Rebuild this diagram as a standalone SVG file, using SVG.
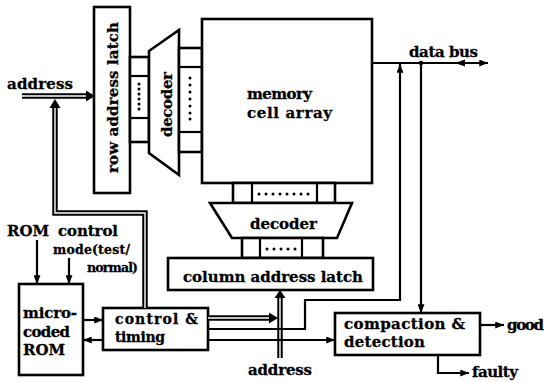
<svg xmlns="http://www.w3.org/2000/svg" width="544" height="382" viewBox="0 0 544 382">
  <style>
    .box { fill: #fff; stroke: #000; stroke-width: 2.6; }
    .ln { fill: none; stroke: #000; stroke-width: 2.2; }
    .dbo { fill: none; stroke: #000; stroke-width: 5.5; }
    .dbi { fill: none; stroke: #fff; stroke-width: 1.4; }
    .head { fill: #000; }
    .dot { fill: #000; }
    text { font-family: "DejaVu Serif", "Liberation Serif", serif; font-weight: bold; font-size: 15px; fill: #000; stroke: #000; stroke-width: 0.3; }
    .sm { font-size: 12.5px; }
    .ct { font-size: 14px; }
  </style>
  <defs>
    <marker id="arr" viewBox="0 0 10 8" refX="10" refY="4" markerWidth="10" markerHeight="7" orient="auto" markerUnits="userSpaceOnUse">
      <path d="M0,0 L10,4 L0,8 z" fill="#000"/>
    </marker>
  </defs>

  <!-- row address latch -->
  <g id="row-latch">
    <rect class="box" x="94" y="7" width="36" height="186"/>
    <text transform="translate(118,173) rotate(-90)" textLength="151" lengthAdjust="spacing">row address latch</text>
  </g>

  <!-- lines from latch to row decoder -->
  <g id="row-lines">
    <rect class="box" x="130" y="57" width="19" height="85"/>
    <line class="ln" x1="130" y1="76" x2="149" y2="76"/>
    <line class="ln" x1="130" y1="118" x2="149" y2="118"/>
    <g class="dot">
      <circle cx="139" cy="84" r="1.5"/><circle cx="139" cy="89" r="1.5"/><circle cx="139" cy="94" r="1.5"/>
      <circle cx="139" cy="99" r="1.5"/><circle cx="139" cy="104" r="1.5"/><circle cx="139" cy="109" r="1.5"/>
    </g>
  </g>

  <!-- row decoder -->
  <g id="row-decoder">
    <polygon class="box" points="149,51 179,30 179,175 149,153"/>
    <text transform="translate(172,137) rotate(-90)" textLength="65" lengthAdjust="spacing">decoder</text>
  </g>

  <!-- word lines into the array -->
  <g id="word-lines">
    <rect class="box" x="179" y="48" width="23" height="104"/>
    <line class="ln" x1="179" y1="67" x2="202" y2="67"/>
    <line class="ln" x1="179" y1="132" x2="202" y2="132"/>
    <g class="dot">
      <circle cx="190" cy="78" r="1.5"/><circle cx="190" cy="85" r="1.5"/><circle cx="190" cy="92" r="1.5"/>
      <circle cx="190" cy="99" r="1.5"/><circle cx="190" cy="106" r="1.5"/><circle cx="190" cy="113" r="1.5"/>
      <circle cx="190" cy="119" r="1.5"/>
    </g>
  </g>

  <!-- memory cell array -->
  <g id="memory-array">
    <rect class="box" x="202" y="19" width="170" height="164"/>
    <text x="247" y="99" textLength="65" lengthAdjust="spacing">memory</text>
    <text x="247" y="118" textLength="85" lengthAdjust="spacing">cell array</text>
  </g>

  <!-- bit lines into column decoder -->
  <g id="bit-lines">
    <rect class="box" x="233" y="183" width="102" height="20"/>
    <line class="ln" x1="252" y1="183" x2="252" y2="203"/>
    <line class="ln" x1="317" y1="183" x2="317" y2="203"/>
    <g class="dot">
      <circle cx="259" cy="194" r="1.5"/><circle cx="266" cy="194" r="1.5"/><circle cx="273" cy="194" r="1.5"/>
      <circle cx="280" cy="194" r="1.5"/><circle cx="287" cy="194" r="1.5"/><circle cx="294" cy="194" r="1.5"/>
      <circle cx="301" cy="194" r="1.5"/><circle cx="308" cy="194" r="1.5"/>
    </g>
  </g>

  <!-- column decoder -->
  <g id="col-decoder">
    <polygon class="box" points="210,203 352,203 337,238 232,238"/>
    <text x="250" y="229" textLength="67" lengthAdjust="spacing">decoder</text>
  </g>

  <!-- lines from column latch to decoder -->
  <g id="col-lines">
    <rect class="box" x="242" y="238" width="81" height="20"/>
    <line class="ln" x1="260" y1="238" x2="260" y2="258"/>
    <line class="ln" x1="302" y1="238" x2="302" y2="258"/>
    <g class="dot">
      <circle cx="267" cy="249" r="1.5"/><circle cx="274" cy="249" r="1.5"/><circle cx="281" cy="249" r="1.5"/>
      <circle cx="288" cy="249" r="1.5"/><circle cx="295" cy="249" r="1.5"/>
    </g>
  </g>

  <!-- column address latch -->
  <g id="col-latch">
    <rect class="box" x="168" y="258" width="205" height="32"/>
    <text x="183" y="282" textLength="180" lengthAdjust="spacing">column address latch</text>
  </g>

  <!-- control & timing -->
  <g id="control-timing">
    <rect class="box" x="103" y="308" width="105" height="42"/>
    <text class="ct" x="115" y="324" textLength="83" lengthAdjust="spacing">control &amp;</text>
    <text class="ct" x="115" y="342" textLength="50" lengthAdjust="spacing">timing</text>
  </g>

  <!-- microcoded ROM -->
  <g id="micro-rom">
    <rect class="box" x="19" y="284" width="64" height="91"/>
    <text x="23" y="318" textLength="54" lengthAdjust="spacing">micro-</text>
    <text x="23" y="337" textLength="47" lengthAdjust="spacing">coded</text>
    <text x="23" y="355">ROM</text>
  </g>

  <!-- compaction & detection -->
  <g id="compaction">
    <rect class="box" x="335" y="313" width="145" height="42"/>
    <text x="344" y="329" textLength="121" lengthAdjust="spacing">compaction &amp;</text>
    <text x="344" y="347" textLength="81" lengthAdjust="spacing">detection</text>
  </g>

  <!-- free-standing labels -->
  <g id="labels">
    <text x="7" y="89" textLength="66" lengthAdjust="spacing">address</text>
    <text x="248" y="375" textLength="64" lengthAdjust="spacing">address</text>
    <text x="409" y="57" textLength="69" lengthAdjust="spacing">data bus</text>
    <text x="7" y="236">ROM</text>
    <text x="58" y="236" textLength="60" lengthAdjust="spacing">control</text>
    <text class="sm" x="53" y="254" textLength="77" lengthAdjust="spacing">mode(test/</text>
    <text class="sm" x="87" y="272" textLength="51" lengthAdjust="spacing">normal)</text>
    <text x="507" y="330" textLength="37" lengthAdjust="spacing">good</text>
    <text x="472" y="377" textLength="46" lengthAdjust="spacing">faulty</text>
  </g>

  <!-- connectors -->
  <g id="connectors">
    <!-- row address bus (double line) -->
    <path class="dbo" d="M22,96 H86"/>
    <path class="dbi" d="M22,96 H86"/>
    <polygon class="head" points="86,90.5 95,96 86,101.5"/>

    <!-- control & timing back to row address bus -->
    <path class="dbo" d="M145,308 V213 H55 V108"/>
    <path class="dbi" d="M145,308 V213 H55 V108"/>
    <polygon class="head" points="49.5,108 55,99 60.5,108"/>

    <!-- column address bus -->
    <path class="dbo" d="M280,358 V298"/>
    <path class="dbi" d="M280,358 V298"/>
    <polygon class="head" points="274.5,298 280,290 285.5,298"/>

    <!-- control & timing to column address -->
    <path class="dbo" d="M208,318 H269"/>
    <path class="dbi" d="M208,318 H269"/>
    <polygon class="head" points="269,312.5 278,318 269,323.5"/>

    <!-- control to data bus -->
    <path class="ln" d="M208,329 H305 V300 H400 V64" marker-end="url(#arr)"/>

    <!-- control to compaction -->
    <path class="ln" d="M208,340 H335" marker-end="url(#arr)"/>

    <!-- data bus -->
    <path class="ln" d="M372,63 H488" marker-end="url(#arr)"/>
    <polygon class="head" points="455,63 465,59.5 465,66.5"/>
    <circle class="dot" cx="421" cy="63" r="2.3"/>
    <path class="ln" d="M421,63 V313" marker-end="url(#arr)"/>

    <!-- outputs -->
    <path class="ln" d="M480,325 H504" marker-end="url(#arr)"/>
    <path class="ln" d="M438,355 V373 H469" marker-end="url(#arr)"/>

    <!-- ROM / control handshake -->
    <path class="ln" d="M83,320 H103" marker-end="url(#arr)"/>
    <path class="ln" d="M103,340 H83" marker-end="url(#arr)"/>

    <!-- ROM control and mode inputs -->
    <path class="ln" d="M37,240 V284" marker-end="url(#arr)"/>
    <path class="ln" d="M69,258 V284" marker-end="url(#arr)"/>
  </g>
</svg>
